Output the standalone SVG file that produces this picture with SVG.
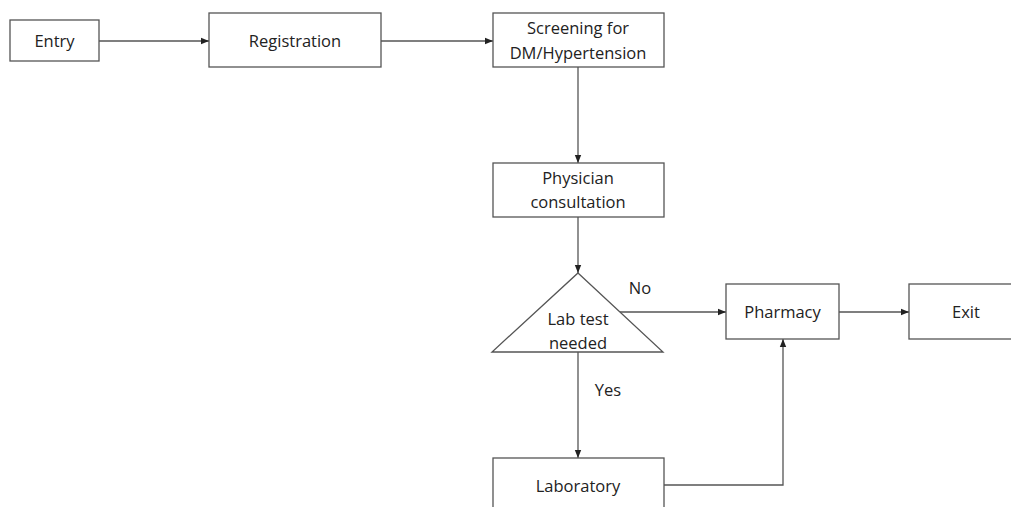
<svg xmlns="http://www.w3.org/2000/svg" width="1011" height="507" viewBox="0 0 1011 507">
<style>
.box{fill:#fff;stroke:#555;stroke-width:1.3}
.ln{fill:none;stroke:#555;stroke-width:1.3}
text{font-family:"Open Sans","Liberation Sans",sans-serif;font-size:16.5px;fill:#222;text-anchor:middle}
</style>
<defs>
<marker id="ah" viewBox="0 0 10 10" refX="10" refY="5" markerWidth="8" markerHeight="8" markerUnits="userSpaceOnUse" orient="auto">
<path d="M0,1 L10,5 L0,9 Z" fill="#222"/>
</marker>
</defs>
<rect width="1011" height="507" fill="#fff"/>
<g id="connectors">
<line class="ln" x1="99" y1="41" x2="209" y2="41" marker-end="url(#ah)"/>
<line class="ln" x1="381" y1="41" x2="493" y2="41" marker-end="url(#ah)"/>
<line class="ln" x1="578" y1="67" x2="578" y2="163" marker-end="url(#ah)"/>
<line class="ln" x1="578" y1="217" x2="578" y2="273" marker-end="url(#ah)"/>
<line class="ln" x1="620" y1="312" x2="726" y2="312" marker-end="url(#ah)"/>
<line class="ln" x1="839" y1="312" x2="909" y2="312" marker-end="url(#ah)"/>
<line class="ln" x1="578" y1="352" x2="578" y2="458" marker-end="url(#ah)"/>
<polyline class="ln" points="664,485 783,485 783,339" marker-end="url(#ah)"/>
<text x="640" y="294">No</text>
<text x="608" y="396">Yes</text>
</g>
<g id="entry"><rect class="box" x="10" y="20" width="89" height="41"/><text x="54.5" y="47">Entry</text></g>
<g id="registration"><rect class="box" x="209" y="13" width="172" height="54"/><text x="295" y="47">Registration</text></g>
<g id="screening"><rect class="box" x="493" y="13" width="171" height="54"/><text x="578" y="34">Screening for</text><text x="578" y="59">DM/Hypertension</text></g>
<g id="physician"><rect class="box" x="493" y="163" width="171" height="54"/><text x="578" y="184">Physician</text><text x="578" y="208">consultation</text></g>
<g id="labtest"><polygon class="box" points="578,273 663,352 492,352"/><text x="578" y="325">Lab test</text><text x="578" y="349">needed</text></g>
<g id="pharmacy"><rect class="box" x="726" y="284" width="113" height="55"/><text x="782.5" y="318">Pharmacy</text></g>
<g id="exit"><rect class="box" x="909" y="284" width="110" height="55"/><text x="966" y="318">Exit</text></g>
<g id="laboratory"><rect class="box" x="493" y="458" width="171" height="60"/><text x="578" y="492">Laboratory</text></g>
</svg>
